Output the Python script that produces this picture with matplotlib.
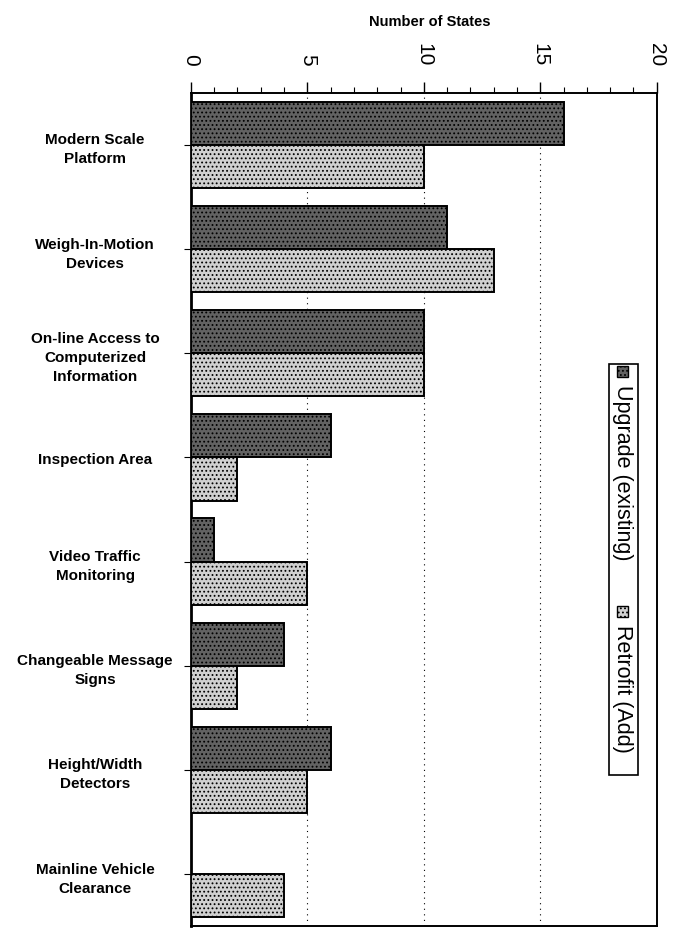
import matplotlib

matplotlib.use("Agg")
import matplotlib.pyplot as plt
import numpy as np
from matplotlib.patches import Rectangle
from matplotlib.ticker import MultipleLocator

plt.rcParams["font.family"] = ["Liberation Sans", "DejaVu Sans"]
plt.rcParams["hatch.linewidth"] = 0.8

categories = [
    "Modern Scale\nPlatform",
    "Weigh-In-Motion\nDevices",
    "On-line Access to\nComputerized\nInformation",
    "Inspection Area",
    "Video Traffic\nMonitoring",
    "Changeable Message\nSigns",
    "Height/Width\nDetectors",
    "Mainline Vehicle\nClearance",
]
upgrade = [16, 11, 10, 6, 1, 4, 6, 0]
retrofit = [10, 13, 10, 2, 5, 2, 5, 4]
series_names = ["Upgrade (existing)", "Retrofit (Add)"]
x_ticks = [0, 5, 10, 15, 20]

fig = plt.figure(figsize=(6.77, 9.29), dpi=100)
ax = fig.add_axes([0.282, 0.002, 0.688, 0.897])

y = np.arange(len(categories))
h = 0.415
dark = dict(facecolor="#626262", hatch="....", edgecolor="black", linewidth=1.4)
light = dict(facecolor="#d0d0d0", hatch="....", edgecolor="black", linewidth=1.4)
ax.barh(y - h / 2, upgrade, height=h, zorder=3, **dark)
ax.barh(y + h / 2, retrofit, height=h, zorder=3, **light)

ax.set_ylim(len(categories) - 0.5, -0.5)
ax.set_xlim(0, 20)
ax.set_yticks(y)
ax.set_yticklabels(categories, fontsize=11, fontweight="bold", linespacing=1.45,
                   ha="center")
ax.tick_params(axis="y", length=5, width=0.8, pad=64)

ax.xaxis.tick_top()
ax.xaxis.set_label_position("top")
ax.set_xticks(x_ticks)
ax.set_xticklabels([str(t) for t in x_ticks], rotation=-90, fontsize=15)
ax.xaxis.set_minor_locator(MultipleLocator(1))
ax.tick_params(axis="x", which="major", length=8, width=1, pad=12)
ax.tick_params(axis="x", which="minor", length=4, width=0.8, top=True)
ax.set_xlabel("Number of States", fontsize=10.5, fontweight="bold", labelpad=12)
ax.xaxis.label.set_x(0.513)

for v in x_ticks[1:-1]:
    ax.axvline(v, color="black", linestyle=(0, (1, 4)), linewidth=0.8, zorder=1)

for s in ax.spines.values():
    s.set_linewidth(1.4)
ax.spines["left"].set_linewidth(2)

# legend drawn by hand so the text can run top-to-bottom
fig.patches.append(Rectangle((609 / 677, 1 - 776 / 929), 29 / 677, 411 / 929,
                             transform=fig.transFigure, facecolor="white",
                             edgecolor="black", linewidth=1.2, zorder=5))
entries = [(372, 385, dark), (612, 625, light)]
for (sq_y, txt_y, style), name in zip(entries, series_names):
    fig.patches.append(Rectangle((617 / 677, 1 - (sq_y + 6) / 929), 11 / 677, 11 / 929,
                                 transform=fig.transFigure, zorder=6,
                                 **{**style, "linewidth": 1}))
    fig.text(623 / 677, 1 - txt_y / 929, name, rotation=-90, fontsize=15.5,
             ha="center", va="top", zorder=7)

fig.savefig("out.png", dpi=100)
